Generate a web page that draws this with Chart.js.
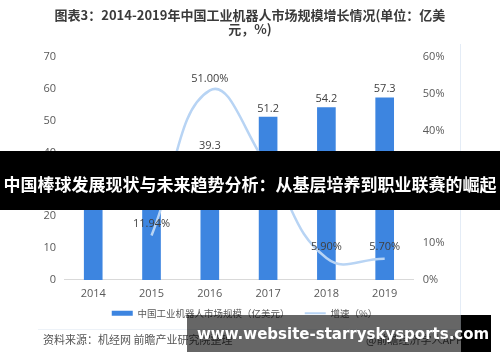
<!DOCTYPE html>
<html>
<head>
<meta charset="utf-8">
<script src="https://cdn.jsdelivr.net/npm/chart.js@4"></script>
<style>
    body { margin: 0; background: #fff; }
    #wrap { position: relative; width: 500px; height: 362px; overflow: hidden; font-family: "Noto Sans CJK SC", "Noto Sans", sans-serif; }
    #grafico { position: absolute; left: 0; top: 0; }
    .titulo { position: absolute; left: 0; top: 8px; width: 500px; text-align: center; font-weight: bold; font-size: 13px; line-height: 14px; color: #3a3a3a; }
    .vline { position: absolute; left: 460px; top: 44px; width: 1px; height: 286px; background: #e4ecf6; }
    .hline { position: absolute; left: 38px; top: 329px; width: 422px; height: 1px; background: #edf2f8; }
    .fuente { position: absolute; top: 331px; font-size: 11px; color: #555; }
    .banda { position: absolute; left: 0; top: 151px; width: 500px; height: 59px; background: #000; }
    .banda .medio { position: absolute; left: 38px; top: 0; width: 423px; height: 59px; background: rgba(0,0,0,0.6); }
    .banda .texto { position: absolute; left: 0; top: 0; width: 500px; text-align: center; line-height: 66px; font-size: 17px; font-weight: bold; color: #fff; white-space: nowrap; }
    .pie { position: absolute; left: 187px; top: 315px; width: 274px; height: 37px; background: rgba(0,0,0,0.6); }
    .pie2 { position: absolute; left: 461px; top: 315px; width: 30px; height: 37px; background: #000; }
    .url { position: absolute; left: 197px; top: 315px; line-height: 39px; font-family: "DejaVu Sans", sans-serif; font-weight: bold; font-size: 15px; color: #fff; white-space: nowrap; }
</style>
</head>
<body>
<div id="wrap">
    <canvas id="grafico" width="500" height="362"></canvas>
    <div class="titulo">图表3：2014-2019年中国工业机器人市场规模增长情况(单位：亿美<br>元，%)</div>
    <div class="vline"></div>
    <div class="hline"></div>
    <div class="fuente" style="left:43px;">资料来源：机经网 前瞻产业研究院整理</div>
    <div class="fuente" style="left:366px;">@前瞻经济学人APP</div>
    <div class="banda"><div class="medio"></div><div class="texto">中国棒球发展现状与未来趋势分析：从基层培养到职业联赛的崛起</div></div>
    <div class="pie"></div>
    <div class="pie2"></div>
    <div class="url">www.website-starryskysports.com</div>
</div>
<script>
const anios = ["2014", "2015", "2016", "2017", "2018", "2019"];
const mercado = [26.6, 30, 39.3, 51.2, 54.2, 57.3];          // 亿美元
const crecimiento = [null, 11.94, 51.00, 30.30, 5.90, 5.70]; // %
const ticksIzq = [0, 10, 20, 30, 40, 50, 60, 70];
const ticksDer = [0, 10, 20, 30, 40, 50, 60];

const colorBarra = "#3d85e0";
const colorLinea = "#b8d4f4";
const colorTexto = "#595959";

// etiquetas encima de barras y puntos
const etiquetas = {
    id: "etiquetas",
    afterDatasetsDraw(chart) {
        const ctx = chart.ctx;
        ctx.save();
        ctx.font = "11px 'Open Sans', 'Noto Sans', sans-serif";
        ctx.fillStyle = "#404040";
        ctx.textAlign = "center";
        ctx.textBaseline = "bottom";
        chart.getDatasetMeta(0).data.forEach((el, i) => {
            ctx.fillText(String(mercado[i]), el.x, el.y - 3);
        });
        chart.getDatasetMeta(1).data.forEach((el, i) => {
            if (crecimiento[i] === null) return;
            ctx.fillText(crecimiento[i].toFixed(2) + "%", el.x, el.y - 6);
        });
        ctx.restore();
    }
};

new Chart(document.getElementById("grafico"), {
    type: "bar",
    data: {
        labels: anios,
        datasets: [{
            label: "中国工业机器人市场规模（亿美元）",
            data: mercado,
            backgroundColor: colorBarra,
            categoryPercentage: 1,
            barPercentage: 0.32,
            yAxisID: "y",
            order: 2
        }, {
            type: "line",
            label: "增速（%）",
            data: crecimiento,
            borderColor: colorLinea,
            backgroundColor: colorLinea,
            borderWidth: 2.5,
            pointRadius: 0,
            tension: 0.45,
            yAxisID: "y1",
            order: 1
        }]
    },
    options: {
        responsive: false,
        animation: false,
        layout: { padding: { left: 35.5, right: 46.5, top: 57, bottom: 34 } },
        plugins: {
            title: { display: false },
            tooltip: { enabled: false },
            legend: {
                position: "bottom",
                labels: {
                    usePointStyle: true,
                    pointStyleWidth: 21,
                    boxWidth: 21,
                    boxHeight: 5,
                    padding: 1,
                    color: colorTexto,
                    font: { size: 9.5, family: "'Noto Sans CJK SC', sans-serif" },
                    generateLabels: chart => {
                        const items = Chart.defaults.plugins.legend.labels.generateLabels(chart);
                        items.sort((a, b) => a.datasetIndex - b.datasetIndex);
                        items.forEach(it => {
                            if (it.datasetIndex === 0) {
                                it.pointStyle = "rect";
                                it.lineWidth = 0;
                                it.text = it.text + "\u3000\u3000";
                            } else {
                                it.pointStyle = "line";
                                it.lineWidth = 2;
                                it.strokeStyle = colorLinea;
                            }
                        });
                        return items;
                    }
                }
            }
        },
        scales: {
            x: {
                grid: { display: false, drawTicks: false },
                border: { color: "#d9d9d9" },
                ticks: { color: colorTexto, padding: 5, font: { size: 11, lineHeight: 1.6, family: "'Open Sans', sans-serif" } }
            },
            y: {
                position: "left",
                min: 0, max: 70,
                afterBuildTicks: ax => { ax.ticks = ticksIzq.map(v => ({ value: v })); },
                grid: { display: false, drawTicks: false },
                border: { display: false },
                ticks: { color: colorTexto, padding: 8, font: { size: 11, family: "'Open Sans', sans-serif" } }
            },
            y1: {
                position: "right",
                min: 0, max: 60,
                afterBuildTicks: ax => { ax.ticks = ticksDer.map(v => ({ value: v })); },
                grid: { display: false, drawTicks: false },
                border: { display: false },
                ticks: { color: colorTexto, padding: 9, callback: v => v + "%", font: { size: 11, family: "'Open Sans', sans-serif" } }
            }
        }
    },
    plugins: [etiquetas]
});
</script>
</body>
</html>
